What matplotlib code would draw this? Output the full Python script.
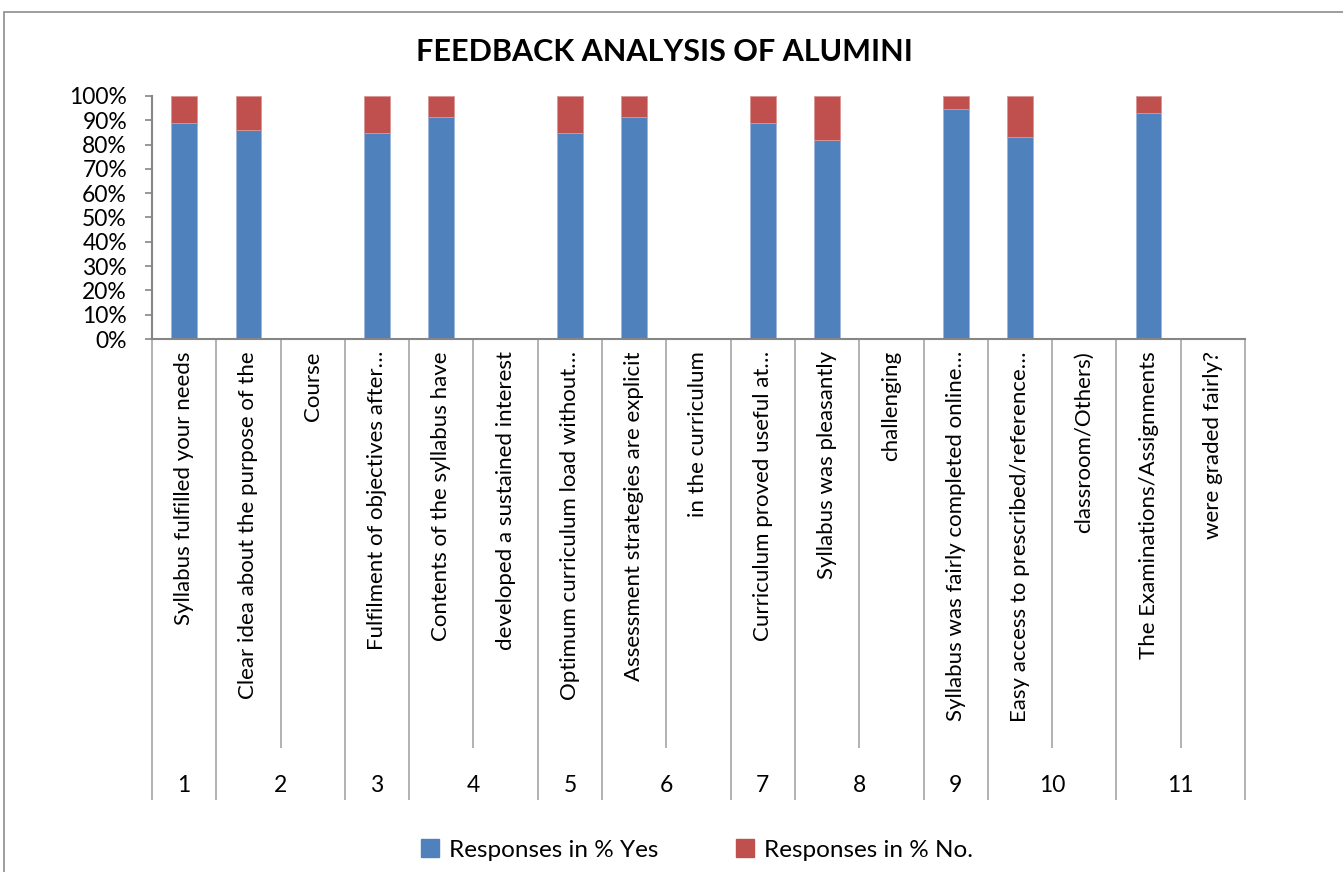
import numpy as np
import matplotlib
matplotlib.use('Agg')
import matplotlib.pyplot as plt
from matplotlib.patches import Rectangle, Patch
from matplotlib.ticker import PercentFormatter

plt.rcParams['font.family'] = ['Lato', 'DejaVu Sans']

# category labels (what Excel shows on the rotated axis)
labels = ['Syllabus fulfilled your needs', 'Clear idea about the purpose of the', 'Course',
          'Fulfilment of objectives after…', 'Contents of the syllabus have',
          'developed a sustained interest', 'Optimum curriculum load without…',
          'Assessment strategies are explicit', 'in the curriculum',
          'Curriculum proved useful at…', 'Syllabus was pleasantly', 'challenging',
          'Syllabus was fairly completed online…', 'Easy access to prescribed/reference…',
          'classroom/Others)', 'The Examinations/Assignments', 'were graded fairly?']
# question number of each category
groups = [1, 2, 2, 3, 4, 4, 5, 6, 6, 7, 8, 8, 9, 10, 10, 11, 11]
# % yes (nan = no bar on that row)
yes = [88.9, 86.1, np.nan, 84.6, 91.5, np.nan, 84.6, 91.5, np.nan,
       88.9, 81.9, np.nan, 94.5, 83.1, np.nan, 92.9, np.nan]
no = [100 - v for v in yes]

blue = '#4F81BD'
red = '#C0504D'
grey = '#868686'

W, H = 1343, 872
fig = plt.figure(figsize=(W / 100, H / 100), dpi=100)
ax = fig.add_axes([152 / W, 1 - 339 / H, (1245 - 152) / W, (339 - 96) / H])

x = np.arange(len(labels))
yes_f = np.array(yes) / 100
no_f = np.array(no) / 100
ax.bar(x, yes_f, width=0.4, color=blue, edgecolor='#9DB5D9', linewidth=0.6, zorder=2)
ax.bar(x, no_f, width=0.4, bottom=yes_f, color=red, edgecolor='#D99594', linewidth=0.6, zorder=2)

ax.set_xlim(-0.5, len(labels) - 0.5)
ax.set_ylim(0, 1)
ax.set_yticks(np.arange(0, 1.01, 0.1))
ax.yaxis.set_major_formatter(PercentFormatter(1.0, decimals=0))
ax.tick_params(axis='y', direction='out', length=5, width=1.2, color=grey,
               labelsize=16.5, pad=13, labelcolor='black')

for s in ['top', 'right']:
    ax.spines[s].set_visible(False)
for s in ['left', 'bottom']:
    ax.spines[s].set_color(grey)
    ax.spines[s].set_linewidth(1.5)

# multi level category axis: short ticks between rows, long ticks between questions
ax.set_xticks(np.arange(-0.5, len(labels), 1), minor=True)
bounds = [-0.5] + [i + 0.5 for i in range(len(groups) - 1) if groups[i] != groups[i + 1]] + [len(groups) - 0.5]
ax.set_xticks(bounds)
ax.set_xticklabels([])
ax.tick_params(axis='x', which='minor', direction='out', length=(748 - 339) * 0.72, width=1.2, color='#A6A6A6')
ax.tick_params(axis='x', which='major', direction='out', length=(800 - 339) * 0.72, width=1.2, color='#A6A6A6')

tr = ax.get_xaxis_transform()
for i, lab in enumerate(labels):
    ax.text(i, -(351 - 339) / 243, lab, rotation=90, ha='center', va='top',
            fontsize=16, transform=tr)

for g in sorted(set(groups)):
    idx = [i for i, v in enumerate(groups) if v == g]
    ax.text(np.mean(idx), -(785 - 339) / 243, str(g), ha='center', va='center',
            fontsize=16.5, transform=tr)

fig.text(664 / W, 1 - 52 / H, 'FEEDBACK ANALYSIS OF ALUMINI', ha='center', va='center',
         fontsize=22, fontweight='bold')

handles = [Patch(color=blue), Patch(color=red)]
fig.legend(handles, ['Responses in % Yes', 'Responses in % No.'], loc='center',
           bbox_to_anchor=(697 / W, 1 - 850 / H), ncol=2, frameon=False, fontsize=17.5,
           handlelength=0.75, handleheight=0.75, handletextpad=0.4, columnspacing=3.2)

fig.add_artist(Rectangle((4 / W, -0.1), 2, 1 - 12 / H + 0.1, transform=fig.transFigure,
                         fill=False, edgecolor='#8C8C8C', linewidth=1.2))

fig.savefig('out.png', dpi=100)
